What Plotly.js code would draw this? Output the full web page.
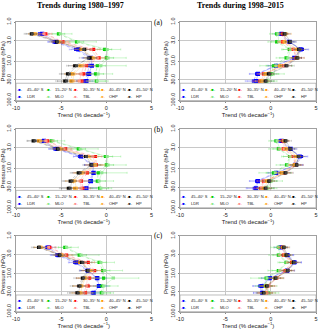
<!DOCTYPE html>
<html>
<head>
<meta charset="utf-8">
<script src="https://cdn.plot.ly/plotly-3.0.1.min.js"></script>
<style>
html, body { margin: 0; padding: 0; background: #fff; }
#graph { width: 320px; height: 329px; }
</style>
</head>
<body>
<div id="graph"></div>
<script>
// ozone trend profiles: satellite zonal bands vs ground stations
// left column 1980-1997, right column 1998-2015, rows (a) (b) (c)

var levels = [2.0, 3.2, 5.0, 8.2, 13, 21, 32]; // hPa

var names = ['45–40° S', 'LDR', '15–20° N', 'MLO', '30–35° N', 'TBL', '40–45° N', 'OHP', '45–50° N', 'HP'];

// rows follow the order of names, columns follow levels
var trendA80 = [
  [-7.4, -5.8, -3.4, -1.9, -1.9, -2.1, -2.4],
  [-7.1, -5.6, -3.1, -1.7, -1.6, -1.9, -2.2],
  [-5.3, -3.3, -0.2, 0.0, -1.0, -1.2, -1.1],
  [-5.1, -3.1, 0.1, 0.2, -0.6, -0.9, -1.0],
  [-6.7, -4.8, -1.4, -0.8, -2.2, -2.5, -2.7],
  [-6.9, -5.0, -1.7, -1.0, -2.5, -2.8, -3.0],
  [-8.0, -5.3, -2.8, -1.6, -2.9, -3.8, -3.9],
  [-7.8, -5.2, -2.6, -1.4, -2.7, -3.6, -3.7],
  [-8.3, -5.5, -2.4, -1.8, -3.5, -4.3, -4.6],
  [-8.2, -5.4, -2.5, -2.0, -3.3, -4.1, -4.4]
];
var trendB80 = [
  [-7.1, -5.7, -2.95, -1.65, -1.5, -1.85, -2.4],
  [-6.9, -5.5, -2.8, -1.5, -1.4, -1.7, -2.2],
  [-6.1, -3.1, -0.1, 0.0, -0.9, -1.0, -0.75],
  [-5.9, -2.9, 0.1, 0.2, -0.5, -0.8, -0.6],
  [-6.5, -4.5, -1.2, -1.1, -2.1, -2.75, -2.6],
  [-6.7, -4.7, -1.5, -1.2, -2.4, -2.9, -2.8],
  [-7.5, -5.15, -2.0, -1.3, -2.75, -3.7, -3.5],
  [-7.3, -5.0, -1.9, -1.2, -2.6, -3.5, -3.3],
  [-8.1, -5.4, -2.3, -1.7, -3.1, -4.0, -4.2],
  [-7.9, -5.3, -2.2, -1.6, -2.9, -3.8, -4.0]
];
var trendC80 = [
  [-6.6, -5.5, -3.5, -2.15, -1.1, -0.9, -1.55],
  [-6.4, -5.3, -3.3, -2.0, -1.0, -0.8, -1.4],
  [-4.6, -3.0, -0.8, -0.4, -0.3, -0.5, -0.55],
  [-4.4, -2.8, -0.6, -0.2, 0.8, -0.3, -0.4],
  [-6.25, -4.4, -2.0, -1.3, -1.85, -2.0, -2.3],
  [-6.4, -4.6, -2.3, -1.5, -2.1, -2.2, -2.5],
  [-7.35, -5.0, -2.95, -1.85, -2.4, -2.85, -2.95],
  [-7.2, -4.9, -2.8, -1.7, -2.3, -2.7, -2.8],
  [-7.5, -5.2, -2.75, -2.1, -2.65, -3.05, -3.25],
  [-7.4, -5.1, -2.6, -2.0, -2.5, -2.9, -3.1]
];
var trendA98 = [
  [1.0, 1.95, 3.5, 2.7, 0.5, -1.55, -1.9],
  [1.2, 2.1, 3.3, 2.6, 0.6, -1.4, -1.6],
  [0.66, 0.66, 2.05, 1.7, 0.3, 0.1, -0.45],
  [0.8, 0.9, 2.2, 1.9, 0.6, 0.3, -0.3],
  [1.3, 1.3, 2.5, 2.8, 1.4, -0.8, -1.2],
  [1.5, 1.5, 2.6, 2.9, 1.5, -0.7, -1.1],
  [1.6, 1.5, 2.9, 2.9, 1.0, -0.6, -1.0],
  [1.7, 1.6, 3.0, 3.0, 1.1, -0.5, -0.9],
  [1.5, 2.1, 3.1, 2.9, 1.7, -0.25, -0.6],
  [1.6, 2.2, 3.2, 3.0, 1.8, -0.1, -0.5]
];
var trendB98 = [
  [1.0, 2.05, 3.4, 2.85, 0.5, -1.55, -1.8],
  [1.2, 2.2, 3.2, 2.7, 0.6, -1.4, -1.6],
  [0.58, 0.85, 2.1, 1.75, 0.3, -0.1, -0.45],
  [0.7, 1.0, 2.2, 1.9, 0.5, 0.1, -0.3],
  [1.3, 1.4, 2.5, 2.7, 1.5, -0.8, -1.1],
  [1.4, 1.5, 2.6, 2.8, 1.6, -0.7, -1.0],
  [1.5, 1.7, 2.8, 2.6, 1.2, -0.45, -0.8],
  [1.5, 1.8, 2.9, 2.7, 1.3, -0.35, -0.7],
  [1.6, 2.15, 3.05, 2.85, 1.6, -0.2, -0.6],
  [1.7, 2.2, 3.1, 2.9, 1.7, -0.1, -0.5]
];
var trendC98 = [
  [1.2, 1.95, 2.7, 1.95, -0.25, -1.2, -1.0],
  [1.1, 1.8, 2.6, 1.8, -0.1, -1.0, -0.9],
  [0.85, 0.85, 1.7, 0.85, -0.5, -0.6, -0.25],
  [0.9, 1.0, 1.8, 1.0, -0.4, -0.5, -0.1],
  [1.3, 1.4, 2.3, 1.6, 0.65, -0.3, -0.5],
  [1.4, 1.5, 2.4, 1.7, 0.7, -0.2, -0.4],
  [1.35, 1.6, 2.4, 1.8, 0.5, -0.5, -0.7],
  [1.4, 1.7, 2.5, 1.9, 0.6, -0.4, -0.6],
  [1.45, 1.7, 2.5, 1.85, 0.5, -0.45, -0.8],
  [1.5, 1.8, 2.6, 1.9, 0.6, -0.35, -0.7]
];

// 2-sigma half widths
var err80 = [
  [0.6, 0.7, 0.7, 0.8, 0.8, 0.9, 0.9],
  [0.8, 0.8, 0.8, 0.9, 1.0, 1.0, 1.1],
  [0.7, 0.8, 0.8, 0.8, 0.9, 0.9, 1.0],
  [1.3, 2.0, 1.5, 2.0, 2.8, 1.6, 1.2],
  [0.6, 0.6, 0.7, 0.7, 0.8, 0.8, 0.9],
  [0.9, 1.0, 1.0, 1.1, 1.2, 1.1, 1.0],
  [0.6, 0.6, 0.6, 0.7, 0.7, 0.8, 0.8],
  [0.8, 0.9, 0.9, 1.0, 1.0, 1.0, 1.1],
  [0.6, 0.6, 0.6, 0.7, 0.7, 0.7, 0.8],
  [0.9, 0.9, 1.0, 1.0, 1.1, 1.1, 1.2]
];
var err98 = [
  [0.6, 0.6, 0.7, 0.7, 0.8, 0.8, 0.9],
  [0.7, 0.7, 0.8, 0.8, 0.9, 0.9, 1.0],
  [0.5, 0.6, 0.7, 0.7, 0.8, 0.8, 0.8],
  [0.9, 1.2, 1.0, 1.3, 1.8, 1.2, 1.0],
  [0.4, 0.5, 0.5, 0.6, 0.6, 0.7, 0.7],
  [0.6, 0.7, 0.7, 0.8, 0.8, 0.8, 0.9],
  [0.4, 0.5, 0.5, 0.5, 0.6, 0.6, 0.7],
  [0.6, 0.6, 0.7, 0.7, 0.7, 0.8, 0.8],
  [0.4, 0.5, 0.5, 0.5, 0.6, 0.6, 0.7],
  [0.6, 0.6, 0.7, 0.7, 0.8, 0.8, 0.9]
];

var periods = ['Trends during 1980–1997', 'Trends during 1998–2015'];
var tags = ['(a)', '(b)', '(c)'];

// styles per series
var colors   = ['#0000ff', '#0000ff', '#00cc00', '#8fe88f', '#ff0000', '#ff9090', '#ff9900', '#ffb347', '#000000', '#444444'];
var lineCol  = ['rgba(0,0,255,0.3)', 'rgba(0,0,255,0.3)', 'rgba(0,200,0,0.3)', 'rgba(120,230,120,0.35)',
                'rgba(255,0,0,0.3)', 'rgba(255,140,140,0.35)', 'rgba(255,150,0,0.3)', 'rgba(255,180,80,0.35)',
                'rgba(0,0,0,0.25)', 'rgba(60,60,60,0.25)'];
var barCol   = ['rgba(80,80,255,0.45)', 'rgba(80,80,255,0.45)', 'rgba(0,200,0,0.45)', 'rgba(110,230,110,0.6)',
                'rgba(255,60,60,0.4)', 'rgba(255,150,150,0.5)', 'rgba(255,160,40,0.45)', 'rgba(255,190,100,0.5)',
                'rgba(0,0,0,0.35)', 'rgba(80,80,80,0.35)'];
var sizes    = [3.2, 4.2, 3.2, 3, 3.2, 3, 3.2, 3, 3.2, 3];

var xDom = [[0.05, 0.4734], [0.5625, 0.9875]];
var yDom = [[0.6945, 0.9331], [0.3687, 0.6079], [0.0528, 0.2827]];

var panelData = [trendA80, trendA98, trendB80, trendB98, trendC80, trendC98];
var panelErr  = [err80, err98, err80, err98, err80, err98];

var data = [];
var annotations = [];
var shapes = [];

var layout = {
  width: 320,
  height: 329,
  margin: {l: 0, r: 0, t: 0, b: 0},
  paper_bgcolor: '#ffffff',
  plot_bgcolor: '#ffffff',
  showlegend: false,
  font: {family: 'Liberation Sans, Arial, sans-serif', size: 6, color: '#222'}
};

// legend placement inside each panel (fractions of the panel)
var legSym = [0.033, 0.241, 0.443, 0.640, 0.839];
var legRowY = [0.146, 0.054];

for (var k = 0; k < 6; k++) {
  var row = Math.floor(k / 2);
  var col = k % 2;
  var sfx = (k === 0) ? '' : String(k + 1);
  var xa = 'x' + sfx, ya = 'y' + sfx;

  layout['xaxis' + sfx] = {
    domain: xDom[col],
    anchor: ya,
    range: [-10, 5],
    tickvals: [-10, -5, 0, 5],
    ticktext: ['-10', '-5', '0', '5'],
    showgrid: true,
    gridcolor: '#c8c8c8',
    gridwidth: 1,
    zeroline: false,
    showline: true,
    mirror: true,
    linecolor: '#a0a0a0',
    linewidth: 1,
    ticks: 'outside',
    ticklen: 1.5,
    tickcolor: '#888',
    tickfont: {size: 5.5},
    title: {text: 'Trend (% decade<sup>−1</sup>)', font: {size: 6}, standoff: 0}
  };
  layout['yaxis' + sfx] = {
    domain: yDom[row],
    anchor: xa,
    type: 'log',
    range: [2, 0],
    tickvals: [1, 3, 10, 30, 100],
    ticktext: ['1.0', '3.0', '10.0', '30.0', '100.0'],
    tickangle: -90,
    showgrid: true,
    gridcolor: '#c8c8c8',
    zeroline: false,
    showline: true,
    mirror: true,
    linecolor: '#a0a0a0',
    linewidth: 1,
    ticks: 'outside',
    ticklen: 1.5,
    tickcolor: '#888',
    tickfont: {size: 5.5},
    title: {text: 'Pressure (hPa)', font: {size: 6}, standoff: 1}
  };

  // profiles
  for (var s = 0; s < names.length; s++) {
    data.push({
      x: panelData[k][s],
      y: levels,
      xaxis: xa,
      yaxis: ya,
      type: 'scatter',
      mode: 'lines+markers',
      name: names[s],
      line: {color: lineCol[s], width: 0.8, dash: (s % 2 === 0) ? 'dot' : 'solid'},
      marker: {symbol: 'square', size: sizes[s], color: colors[s]},
      error_x: {type: 'data', array: panelErr[k][s], visible: true,
                color: barCol[s], thickness: 0.6, width: 1}
    });
  }

  // legend box
  shapes.push({
    type: 'rect', xref: xa + ' domain', yref: ya + ' domain',
    x0: 0, x1: 1, y0: 0, y1: 0.22,
    fillcolor: '#ffffff', line: {color: '#a0a0a0', width: 0.7}, layer: 'above'
  });

  for (var j = 0; j < 5; j++) {
    for (var r = 0; r < 2; r++) {
      var s2 = j * 2 + r;
      annotations.push({
        xref: xa + ' domain', yref: ya + ' domain',
        x: legSym[j], y: legRowY[r], showarrow: false,
        text: '-■-', font: {size: 4, color: colors[s2]},
        xanchor: 'center', yanchor: 'middle'
      });
      annotations.push({
        xref: xa + ' domain', yref: ya + ' domain',
        x: legSym[j] + 0.035, y: legRowY[r], showarrow: false,
        text: names[s2], font: {size: 4, color: '#222'},
        xanchor: 'left', yanchor: 'middle'
      });
    }
  }
}

// column titles
for (var c = 0; c < 2; c++) {
  annotations.push({
    xref: 'paper', yref: 'paper', x: 0.25 + c * 0.5, y: 1 - 6 / 329,
    showarrow: false, text: '<b>' + periods[c] + '</b>',
    font: {family: 'Liberation Serif, Times New Roman, serif', size: 8, color: '#000'},
    xanchor: 'center', yanchor: 'middle'
  });
}
// row tags
for (var t = 0; t < 3; t++) {
  annotations.push({
    xref: 'paper', yref: 'paper', x: 158 / 320, y: yDom[t][1],
    showarrow: false, text: tags[t],
    font: {family: 'Liberation Serif, serif', size: 7.5, color: '#000'},
    xanchor: 'center', yanchor: 'middle'
  });
}

layout.annotations = annotations;
layout.shapes = shapes;

Plotly.newPlot('graph', data, layout, {staticPlot: true, displayModeBar: false});
</script>
</body>
</html>
